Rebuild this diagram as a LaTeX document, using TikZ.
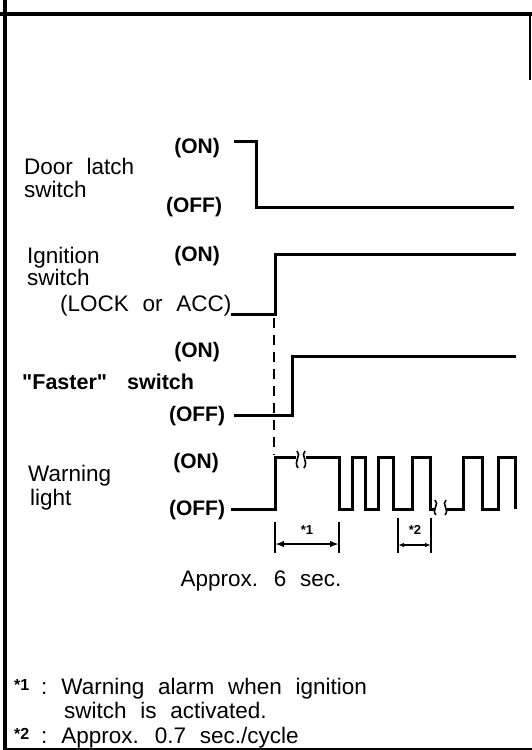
\documentclass[tikz,border=0pt]{standalone}
\usepackage{fontspec}
\setmainfont{Liberation Sans}[WordSpace=2.2]
\newfontfamily\plainquote{Liberation Sans}[Ligatures=ResetAll]
\usetikzlibrary{arrows.meta}
\begin{document}
\begin{tikzpicture}[x=1pt,y=-1pt,
  lbl/.style={font=\fontsize{22.5}{26}\selectfont, inner sep=0pt, text height=16pt, text depth=0pt, anchor=west},
  stat/.style={font=\fontsize{21}{24}\selectfont\bfseries, inner sep=0pt, text height=15pt, text depth=0pt, anchor=center},
  starmark/.style={font=\fontsize{13}{14}\selectfont\bfseries, inner sep=0pt},
  wave/.style={line width=3pt, line join=miter, line cap=butt},
  brk/.style={line width=1.6pt},
  frame/.style={line width=3.5pt},
  tick/.style={line width=2pt},
  dim/.style={line width=2pt, {Latex[length=9pt,width=6.5pt]}-{Latex[length=9pt,width=6.5pt]}},
  sdim/.style={line width=1.8pt, {Latex[length=6pt,width=4.5pt]}-{Latex[length=6pt,width=4.5pt]}}
]
\useasboundingbox (0,0) rectangle (532,750);
\fill[white] (0,0) rectangle (532,750);

% frame
\draw[line width=4pt] (0,13.5) -- (532,13.5);
\draw[frame] (5,0) -- (5,750);
\draw[line width=2.5pt] (530,13.5) -- (530,80);
\draw[line width=2pt] (5,749) -- (532,749);

% labels left
\node[lbl] (dl1) at (24,166) {Door latch};
\node[lbl] (dl2) at (24,189) {switch};
\node[lbl] (ig1) at (27,255) {Ignition};
\node[lbl] (ig2) at (27,277) {switch};
\node[lbl] (lock) at (60,303) {(LOCK or ACC)};
\node[stat, anchor=west, font=\fontsize{21.5}{24}\selectfont\bfseries] (fs) at (22,382) {{\plainquote\bfseries "}Faster{\plainquote\bfseries "}\hspace{20pt}switch};
\node[lbl] (wl1) at (28,473) {Warning};
\node[lbl] (wl2) at (30,497) {light};

% state labels
\node[stat] (don) at (197,146) {(ON)};
\node[stat] (doff) at (194,205) {(OFF)};
\node[stat] (ion) at (197,254) {(ON)};
\node[stat] (fon) at (197,350) {(ON)};
\node[stat] (foff) at (197,414) {(OFF)};
\node[stat] (won) at (196,461) {(ON)};
\node[stat] (woff) at (197,508) {(OFF)};

% door latch
\draw[wave] (234,141) -- (256,141) -- (256,207) -- (514,207);
% ignition
\draw[wave] (231,314) -- (275,314) -- (275,254) -- (516,254);
% faster
\draw[wave] (234,415) -- (292,415) -- (292,356) -- (516,356);
% dashed marker
\draw[line width=2pt, dash pattern=on 10pt off 7pt] (274,318) -- (274,455);

% warning light
\draw[wave] (231,509) -- (275,509) -- (275,457) -- (296,457);
\draw[wave] (306,457) -- (339,457) -- (339,509) -- (352,509) -- (352,457) -- (365,457) -- (365,509)
  -- (378,509) -- (378,457) -- (393,457) -- (393,509) -- (412,509) -- (412,457) -- (430,457)
  -- (430,509) -- (435,509);
\draw[wave] (447,509) -- (463,509) -- (463,457) -- (482,457) -- (482,509) -- (498,509)
  -- (498,457) -- (515,457) -- (515,509);
% break marks
\draw[brk] (297,451) .. controls (302,455) and (293,461) .. (298,468);
\draw[brk] (305,451) .. controls (300,455) and (309,461) .. (304,468);
\draw[brk] (435,500) .. controls (440,504) and (431,510) .. (436,515);
\draw[brk] (446,500) .. controls (441,504) and (450,510) .. (445,515);

% dimension *1
\coordinate (a1) at (275,544);
\coordinate (b1) at (339,544);
\draw[tick] (275,522) -- (275,553);
\draw[tick] (339,522) -- (339,553);
\draw[dim] (a1) -- (b1);
\node[starmark] (m1) at (307,530) {*1};
% dimension *2
\coordinate (a2) at (398,545);
\coordinate (b2) at (431,545);
\draw[tick] (398,518) -- (398,553);
\draw[tick] (431,518) -- (431,553);
\draw[sdim] (a2) -- (b2);
\node[starmark] (m2) at (415,530) {*2};

\node[lbl, anchor=center] (approx) at (261,578) {Approx. 6 sec.};

% footnotes
\node[lbl] (fn1) at (14,686) {\makebox[27pt][l]{\raisebox{4pt}{\fontsize{16}{16}\selectfont\bfseries *1}}:\hspace{14pt}Warning alarm when ignition};
\node[lbl] (fn1b) at (64,710) {switch is activated.};
\node[lbl] (fn2) at (14,735) {\makebox[27pt][l]{\raisebox{4pt}{\fontsize{16}{16}\selectfont\bfseries *2}}:\hspace{14pt}Approx. 0.7 sec./cycle};
\end{tikzpicture}
\end{document}
